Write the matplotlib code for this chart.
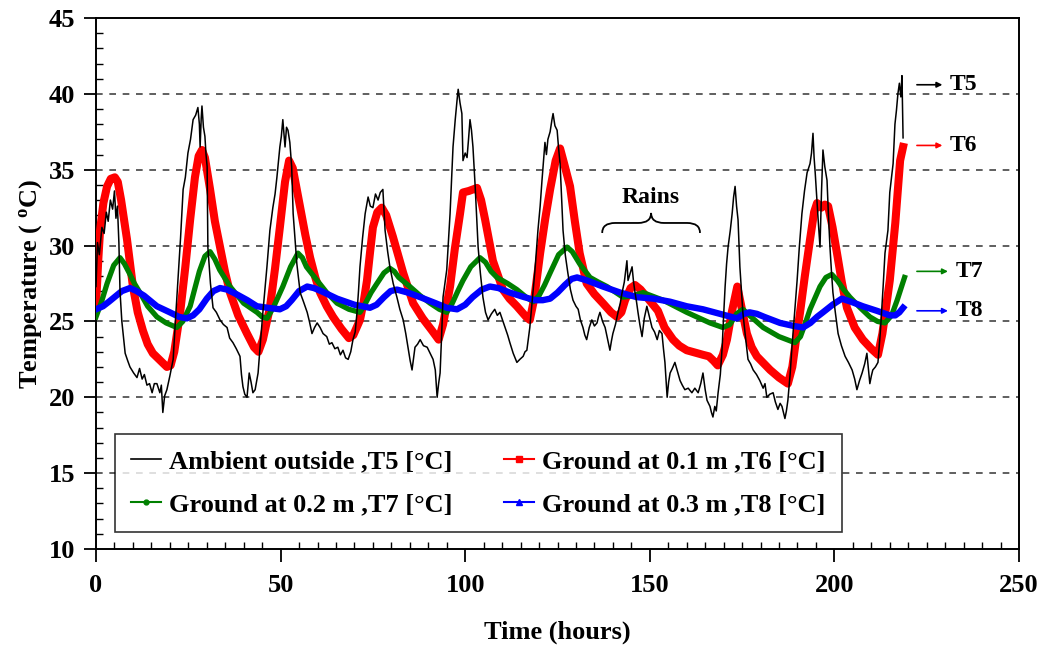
import numpy as np
import matplotlib
matplotlib.use('Agg')
import matplotlib.pyplot as plt
from matplotlib.lines import Line2D
from matplotlib.path import Path
from matplotlib.patches import PathPatch

plt.rcParams['font.family'] = ['Liberation Serif', 'DejaVu Serif']
plt.rcParams['font.weight'] = 'bold'
plt.rcParams['mathtext.fontset'] = 'custom'
plt.rcParams['mathtext.rm'] = 'Liberation Serif:bold'
plt.rcParams['mathtext.it'] = 'Liberation Serif:bold'
plt.rcParams['mathtext.bf'] = 'Liberation Serif:bold'

# ambient outside T5 (hours, degC)
t5_x = [0, 0.4, 0.9, 1.6, 2.2, 2.8, 3.3, 3.9, 4.5, 5.0, 5.4, 5.8, 6.2, 6.5, 7.0, 7.9, 8.6, 9.2, 10.2, 11.1,
        11.8, 12.5, 13.1, 13.8, 14.5, 15.2, 15.8, 16.5, 17.3, 17.7, 18.1, 18.6, 19.2, 20.0, 20.9, 21.5, 22.2,
        22.9, 23.6, 24.2, 24.9, 25.6, 26.3, 27.0, 27.6, 28.0, 28.2, 28.5, 28.7, 29.1, 29.5, 29.8, 30.1, 30.3,
        31.0, 31.7, 32.6, 33.6, 34.5, 35.5, 36.2, 37.1, 38.0, 39.0, 39.4, 39.8, 40.3, 40.9, 41.5, 42.0, 42.5,
        43.1, 43.9, 44.5, 45.2, 46.3, 47.1, 47.9, 48.5, 49.0, 49.8, 50.2, 50.6, 51.2, 51.6, 52.0, 52.5, 53.0,
        53.4, 54.4, 55.3, 56.2, 57.2, 57.8, 58.5, 59.2, 59.9, 60.7, 61.5, 62.5, 63.2, 63.9, 64.7, 65.5, 66.2,
        66.9, 67.6, 68.3, 69.0, 69.6, 70.2, 70.7, 71.1, 71.5, 72.2, 72.9, 73.7, 74.3, 75.0, 75.7, 76.4, 77.0,
        77.7, 78.3, 79.0, 79.6, 80.5, 81.5, 82.3, 83.2, 83.9, 84.5, 85.1, 85.6, 86.4, 87.1, 87.8, 88.7, 89.7,
        90.5, 91.3, 91.9, 92.4, 92.8, 93.2, 93.6, 94.0, 95.0, 95.9, 96.7, 97.3, 97.8, 98.1, 98.6, 99.1, 99.4,
        100.0, 100.5, 100.9, 101.3, 101.7, 102.1, 102.7, 103.5, 104.1, 104.8, 105.5, 106.2, 107.1, 108.0,
        108.7, 109.4, 110.1, 110.8, 111.5, 112.1, 113.0, 114.0, 114.8, 115.7, 116.2, 116.7, 117.5, 118.2,
        118.9, 119.7, 120.3, 120.8, 121.6, 122.0, 122.4, 123.0, 123.5, 123.8, 124.3, 124.9, 125.3, 125.7,
        126.1, 126.5, 127.1, 127.8, 128.5, 129.2, 130.0, 130.6, 131.2, 131.9, 132.4, 132.9, 133.6, 134.3,
        135.0, 135.7, 136.1, 136.5, 137.2, 137.9, 138.5, 139.2, 139.6, 140.0, 140.7, 141.4, 142.0, 142.5,
        143.1, 143.8, 144.1, 144.6, 145.2, 145.6, 146.0, 146.4, 146.8, 147.3, 147.9, 148.5, 149.2, 149.9,
        150.6, 151.3, 152.0, 152.6, 153.3, 153.7, 154.1, 154.7, 155.1, 155.5, 156.1, 156.8, 157.5, 158.2,
        158.8, 159.5, 160.4, 161.4, 162.2, 163.1, 163.8, 164.4, 165.0, 165.5, 166.3, 166.7, 167.1, 167.6,
        168.0, 168.5, 169.1, 169.6, 170.0, 170.4, 170.8, 171.2, 171.8, 172.3, 172.7, 173.1, 173.5, 173.9,
        174.4, 175.2, 175.9, 176.6, 177.3, 178.0, 178.9, 179.8, 180.7, 181.2, 181.7, 182.5, 183.4, 184.0,
        184.7, 185.3, 185.8, 186.2, 186.6, 187.0, 187.4, 188.0, 188.5, 189.2, 189.9, 190.5, 191.2, 191.9,
        192.6, 193.4, 193.8, 194.2, 194.5, 194.8, 195.2, 195.6, 196.1, 196.5, 196.9, 197.4, 198.0, 198.4,
        198.8, 199.2, 199.6, 200.3, 201.0, 201.9, 202.9, 203.8, 204.8, 205.5, 206.1, 206.8, 207.5, 208.2,
        208.8, 209.2, 209.6, 210.0, 210.4, 211.1, 211.8, 212.5, 213.2, 213.7, 214.5, 215.0, 215.9, 216.4,
        216.8, 217.2, 217.6, 218.0, 218.3, 218.6]
t5_y = [27.3, 30.2, 29.4, 31.2, 30.8, 32.2, 31.6, 33.0, 32.4, 33.6, 31.8, 32.6, 30.2, 27.0, 25.0, 22.9, 22.4,
        22.0, 21.6, 21.3, 21.9, 21.2, 21.5, 20.8, 20.9, 20.3, 20.9, 20.9, 20.3, 20.8, 19.0, 20.1, 20.5, 21.4,
        22.5, 25.0, 27.7, 30.5, 33.7, 34.5, 36.1, 37.0, 38.3, 38.6, 39.1, 38.0, 36.5, 38.4, 39.2, 37.8, 37.2,
        36.0, 35.2, 29.9, 27.5, 25.9, 25.6, 25.1, 24.8, 24.6, 23.9, 23.6, 23.2, 22.7, 21.5, 20.7, 20.2, 20.0,
        21.6, 21.0, 20.3, 20.5, 21.6, 23.5, 25.6, 28.6, 31.0, 32.5, 33.4, 34.5, 36.5, 37.2, 38.3, 36.5, 37.8,
        37.6, 36.8, 35.2, 32.1, 28.8, 26.9, 26.3, 25.6, 25.0, 24.2, 24.6, 24.9, 24.6, 24.2, 24.0, 23.5, 23.6,
        23.2, 23.3, 22.8, 23.1, 22.6, 22.5, 23.0, 23.8, 24.3, 25.6, 27.0, 28.6, 30.5, 32.1, 33.2, 32.6, 32.5,
        33.4, 33.0, 33.5, 33.7, 31.0, 29.6, 28.6, 27.5, 26.6, 25.8, 25.1, 24.2, 23.3, 22.4, 21.8, 23.3, 23.5,
        23.8, 23.4, 23.3, 22.9, 22.5, 21.8, 20.0, 20.9, 21.6, 24.0, 26.6, 28.4, 32.1, 36.5, 38.3, 39.6, 40.3,
        39.4, 38.7, 35.6, 36.1, 35.8, 37.0, 38.3, 37.6, 36.5, 33.9, 29.9, 28.2, 26.6, 25.6, 25.1, 25.5, 25.8,
        25.4, 25.6, 25.1, 24.6, 24.1, 23.6, 22.9, 22.3, 22.5, 22.7, 23.0, 23.1, 24.6, 26.5, 28.4, 31.0, 32.6,
        34.3, 36.8, 36.0, 37.0, 37.5, 38.3, 38.7, 37.9, 37.6, 36.4, 35.4, 33.2, 31.0, 29.4, 28.2, 27.1, 26.4,
        26.0, 25.8, 25.1, 24.6, 24.1, 23.8, 24.6, 25.1, 24.7, 24.9, 25.3, 25.6, 25.0, 24.6, 23.9, 23.1, 23.7,
        24.2, 24.8, 25.6, 26.2, 26.9, 27.6, 29.0, 27.7, 28.1, 28.6, 27.6, 26.9, 26.3, 25.6, 24.8, 24.0, 25.2,
        26.0, 25.3, 24.6, 24.3, 23.8, 24.4, 24.2, 23.2, 22.3, 20.0, 21.0, 21.6, 21.9, 22.3, 21.7, 21.1, 20.8,
        20.5, 20.6, 20.3, 20.6, 20.3, 20.9, 21.6, 20.5, 19.8, 19.4, 19.0, 18.7, 19.4, 19.1, 20.3, 21.5, 23.3,
        25.4, 27.3, 28.8, 29.9, 31.0, 32.1, 33.2, 33.9, 32.6, 31.7, 28.6, 25.6, 24.0, 22.5, 22.2, 21.8, 21.5,
        21.1, 20.6, 20.9, 20.0, 20.2, 20.3, 19.7, 19.2, 19.6, 19.4, 19.0, 18.6, 19.1, 19.8, 21.5, 23.3, 25.5,
        27.7, 29.9, 32.1, 33.6, 34.8, 35.4, 36.1, 37.4, 35.8, 34.8, 33.2, 31.7, 29.9, 33.5, 36.3, 35.2, 34.3,
        31.9, 29.9, 28.3, 26.9, 25.5, 24.2, 23.4, 22.7, 22.3, 21.8, 21.2, 20.5, 21.1, 21.6, 22.2, 22.9, 21.9,
        20.9, 21.4, 21.8, 22.0, 22.3, 24.5, 27.3, 29.5, 31.0, 33.5, 35.4, 38.0, 38.9, 40.0, 40.7, 39.8, 41.2,
        37.1]

# ground at 0.1 m, T6
t6_x = [0, 0.6, 1.1, 2.0, 3.0, 4.0, 5.1, 5.9, 6.8, 8.4, 10.0, 11.3, 12.7, 14.0, 15.4, 17.5, 19.2, 20.2, 21.2,
        22.8, 24.2, 25.5, 26.8, 27.8, 28.7, 29.5, 30.9, 32.2, 33.6, 35.0, 36.3, 38.5, 40.9, 42.8, 44.0, 45.2,
        47.1, 48.5, 49.8, 51.2, 52.3, 53.3, 55.3, 56.7, 58.0, 59.4, 60.7, 62.5, 64.2, 66.5, 68.5, 69.7, 71.5,
        72.5, 73.4, 74.2, 75.0, 76.2, 77.4, 78.6, 80.4, 83.2, 85.9, 88.5, 91.0, 92.8, 94.0, 95.9, 97.2, 98.6,
        99.4, 101.0, 102.1, 103.2, 104.3, 105.4, 107.5, 110.2, 112.0, 114.0, 116.5, 117.5, 118.7, 120.3,
        121.7, 123.0, 124.5, 125.7, 126.8, 128.4, 129.7, 131.0, 132.9, 135.0, 137.3, 139.5, 141.1, 142.3,
        143.3, 144.8, 146.0, 147.5, 149.2, 152.2, 154.0, 156.3, 158.0, 160.0, 164.4, 166.0, 167.3, 168.4,
        169.8, 170.9, 172.2, 173.7, 174.8, 176.3, 177.6, 179.0, 182.6, 185.0, 187.4, 188.6, 189.5, 190.7,
        192.0, 193.4, 194.5, 195.3, 196.5, 197.4, 198.3, 199.5, 200.7, 202.0, 203.4, 205.5, 207.7, 210.0,
        211.8, 213.0, 215.0, 216.5, 217.8, 218.6]
t6_y = [26.0, 29.0, 31.0, 32.8, 33.9, 34.4, 34.5, 34.2, 33.0, 30.4, 27.3, 25.6, 24.4, 23.5, 22.9, 22.4, 22.0,
        22.1, 23.0, 25.6, 28.6, 31.7, 34.5, 35.9, 36.3, 35.8, 33.7, 31.6, 29.9, 28.2, 26.9, 25.4, 24.2, 23.3,
        23.0, 23.8, 25.9, 28.5, 31.2, 34.2, 35.6, 35.1, 32.5, 30.7, 29.2, 27.9, 26.9, 26.0, 25.3, 24.5, 23.9,
        24.1, 25.1, 26.3, 27.7, 29.5, 31.2, 32.2, 32.5, 32.0, 30.6, 28.2, 26.2, 25.2, 24.4, 23.8, 24.8, 27.3,
        29.8, 32.1, 33.5, 33.6, 33.7, 33.8, 33.0, 31.7, 29.0, 27.1, 26.5, 26.0, 25.3, 25.1, 26.5, 29.5, 31.8,
        33.7, 35.6, 36.4, 35.4, 33.9, 31.6, 29.5, 27.5, 26.8, 26.2, 25.6, 25.3, 25.6, 26.4, 27.2, 27.4, 27.1,
        26.6, 25.7, 24.6, 23.8, 23.4, 23.1, 22.8, 22.7, 22.4, 22.1, 22.8, 23.8, 25.6, 27.3, 26.0, 24.2, 23.3,
        22.7, 21.8, 21.3, 20.9, 22.0, 23.6, 25.6, 28.0, 30.4, 32.2, 32.8, 32.5, 32.7, 32.6, 31.2, 29.5, 27.6,
        25.9, 24.6, 23.8, 23.2, 22.8, 24.2, 27.7, 31.5, 35.6, 36.5]

# ground at 0.2 m, T7
t7_x = [0, 1.5, 3.0, 4.8, 6.5, 7.7, 9.0, 10.4, 11.9, 14.0, 16.5, 19.0, 21.9, 23.5, 25.5, 26.8, 28.0, 29.5,
        30.9, 32.2, 33.5, 36.3, 40.0, 43.6, 45.0, 46.3, 48.0, 50.6, 52.7, 54.7, 55.9, 57.0, 59.9, 62.5, 65.3,
        68.5, 71.5, 73.0, 74.5, 76.1, 78.0, 79.6, 80.8, 82.0, 85.0, 87.8, 90.5, 93.0, 95.0, 96.5, 98.0, 99.4,
        101.5, 104.0, 105.5, 107.0, 108.6, 111.5, 114.0, 116.5, 118.4, 120.0, 121.5, 123.0, 125.3, 127.6,
        129.0, 131.0, 133.8, 136.0, 138.4, 142.7, 145.5, 148.2, 153.6, 160.0, 166.3, 169.8, 171.7, 173.5,
        175.2, 177.0, 180.7, 185.0, 189.3, 190.8, 192.3, 193.4, 196.1, 197.7, 199.3, 200.8, 202.5, 204.2,
        207.0, 209.6, 211.7, 213.7, 215.5, 217.0, 218.2, 219.0]
t7_y = [25.3, 26.3, 27.5, 28.7, 29.2, 28.8, 28.2, 27.5, 26.9, 26.0, 25.3, 24.9, 24.6, 25.0, 26.0, 27.2, 28.3,
        29.3, 29.6, 29.1, 28.4, 27.3, 26.2, 25.6, 25.3, 25.2, 25.9, 27.3, 28.6, 29.5, 29.2, 28.6, 27.7, 26.9,
        26.2, 25.8, 25.6, 26.2, 26.9, 27.5, 28.2, 28.5, 28.3, 27.9, 27.3, 26.7, 26.2, 25.8, 25.6, 26.2, 27.0,
        27.7, 28.6, 29.2, 28.9, 28.3, 27.9, 27.5, 27.1, 26.6, 26.3, 26.7, 27.4, 28.2, 29.4, 29.9, 29.6, 28.8,
        27.9, 27.6, 27.3, 26.6, 26.7, 26.9, 26.4, 25.6, 24.9, 24.6, 24.8, 25.5, 25.8, 25.4, 24.6, 24.0, 23.6,
        24.0, 25.0, 25.8, 27.3, 27.9, 28.1, 27.7, 27.1, 26.6, 25.9, 25.3, 25.0, 24.9, 25.4, 26.4, 27.3, 27.9]

# ground at 0.3 m, T8
t8_x = [0, 1.9, 3.5, 5.0, 7.0, 9.2, 11.0, 13.0, 16.5, 20.0, 22.5, 24.6, 26.3, 28.0, 30.0, 31.8, 33.6, 35.5,
        38.0, 41.0, 43.6, 46.5, 49.8, 51.5, 53.0, 55.0, 57.2, 59.0, 61.0, 65.3, 70.0, 74.2, 76.0, 78.0, 79.8,
        81.5, 84.5, 87.8, 92.0, 95.0, 97.8, 100.0, 102.0, 104.5, 106.7, 109.0, 112.1, 116.0, 119.0, 121.0,
        123.0, 125.0, 127.0, 128.8, 130.3, 133.0, 137.3, 142.0, 146.5, 151.0, 155.5, 160.0, 164.4, 169.0,
        173.6, 175.5, 177.0, 179.0, 181.0, 185.3, 189.0, 191.5, 193.5, 195.3, 196.9, 199.5, 202.0, 204.5,
        207.7, 211.5, 215.0, 216.5, 217.6, 218.6]
t8_y = [25.8, 26.0, 26.3, 26.6, 27.0, 27.2, 27.0, 26.7, 26.0, 25.6, 25.3, 25.2, 25.4, 25.8, 26.5, 27.0, 27.2,
        27.1, 26.8, 26.4, 26.0, 25.9, 25.8, 26.0, 26.4, 27.0, 27.3, 27.2, 27.0, 26.5, 26.1, 25.9, 26.1, 26.6,
        27.0, 27.1, 26.9, 26.6, 26.2, 25.9, 25.8, 26.1, 26.6, 27.1, 27.3, 27.2, 26.9, 26.6, 26.4, 26.4, 26.5,
        26.9, 27.4, 27.8, 27.9, 27.7, 27.3, 26.9, 26.6, 26.5, 26.3, 26.0, 25.8, 25.5, 25.2, 25.5, 25.6, 25.5,
        25.3, 24.9, 24.7, 24.6, 24.9, 25.3, 25.6, 26.1, 26.5, 26.3, 26.0, 25.7, 25.4, 25.4, 25.6, 25.9]

labels = ['Ambient outside ,T5 [\u00b0C]', 'Ground at 0.1 m ,T6 [\u00b0C]',
          'Ground at 0.2 m ,T7 [\u00b0C]', 'Ground at 0.3 m ,T8 [\u00b0C]']
tags = ['T5', 'T6', 'T7', 'T8']
tag_y = [40.6, 36.6, 28.3, 25.7]
colors = ['black', 'red', 'green', 'blue']

fig = plt.figure(figsize=(10.46, 6.51), dpi=100)
ax = fig.add_axes([96/1046, (651-549)/651, 923/1046, 531/651])

ax.plot(t6_x, t6_y, color='red', lw=5.8, solid_joinstyle='round', zorder=3)
ax.plot(t7_x, t7_y, color='green', lw=3.8, solid_joinstyle='round', zorder=4)
ax.plot(t8_x, t8_y, color='blue', lw=4.6, solid_joinstyle='round', zorder=5)
ax.plot(t5_x, t5_y, color='black', lw=1.1, zorder=6)

ax.set_xlim(0, 250)
ax.set_ylim(10, 45)
ax.set_xticks(np.arange(0, 251, 50))
ax.set_yticks(np.arange(10, 46, 5))
ax.set_xticks(np.arange(0, 251, 5), minor=True)
ax.set_yticks(np.arange(10, 46, 1), minor=True)
ax.tick_params(which='major', direction='out', length=9, width=1.3, labelsize=19)
ax.tick_params(axis='x', which='major', pad=9)
ax.tick_params(axis='y', which='major', pad=6)
ax.tick_params(which='minor', direction='in', length=5, width=1.0)
for s in ax.spines.values():
    s.set_linewidth(1.4)

for yv in range(15, 45, 5):
    ax.axhline(yv, color='#444444', lw=1.2, ls=(0, (4, 4)), zorder=1)

ax.set_xlabel('Time (hours)', fontsize=19, fontweight='bold', labelpad=17)
ax.set_ylabel('Temperature ( $^{o}$C)', fontsize=19, fontweight='bold', labelpad=3)

# legend, row-wise order T5 T6 / T7 T8
handles = [Line2D([], [], color='black', lw=1.2),
           Line2D([], [], color='red', lw=1.5, marker='s', ms=4),
           Line2D([], [], color='green', lw=1.5, marker='o', ms=3.5),
           Line2D([], [], color='blue', lw=1.5, marker='^', ms=4)]
order = [0, 2, 1, 3]
leg = ax.legend([handles[i] for i in order], [labels[i] for i in order], loc='lower left',
                bbox_to_anchor=(0.0206, 0.032), borderaxespad=0, ncol=2, fontsize=19, frameon=True,
                fancybox=False, handlelength=1.15, handletextpad=0.3, columnspacing=1.95,
                labelspacing=0.75, borderpad=0.6)
leg.get_frame().set_edgecolor('black')
leg.get_frame().set_linewidth(1.2)
leg.set_zorder(10)

# right-side series tags
for t, yv, c in zip(tags, tag_y, colors):
    xend = 230 if t in ('T5', 'T6') else 231.5
    ax.annotate('', xy=(xend, yv), xytext=(221.6, yv),
                arrowprops=dict(arrowstyle='-|>', color=c, lw=1.2, mutation_scale=8))
    ax.text(xend + 1.3, yv, t, fontsize=17, fontweight='bold', va='center', ha='left')

# "Rains" brace
bx0, bx1, by, bh, r = 137.1, 163.6, 30.83, 1.32, 3.5
bm = (bx0 + bx1) / 2
verts = [(bx0, by), (bx0, by + bh / 2), (bx0 + r, by + bh / 2),
         (bm - r, by + bh / 2), (bm, by + bh / 2), (bm, by + bh),
         (bm, by + bh / 2), (bm + r, by + bh / 2),
         (bx1 - r, by + bh / 2), (bx1, by + bh / 2), (bx1, by)]
codes = [Path.MOVETO, Path.CURVE3, Path.CURVE3, Path.LINETO, Path.CURVE3, Path.CURVE3,
         Path.CURVE3, Path.CURVE3, Path.LINETO, Path.CURVE3, Path.CURVE3]
ax.add_patch(PathPatch(Path(verts, codes), facecolor='none', edgecolor='black', lw=1.3, zorder=7))
ax.text(bm, 33.2, 'Rains', fontsize=17, fontweight='bold', ha='center', va='center')

fig.savefig('out.png', dpi=100)
